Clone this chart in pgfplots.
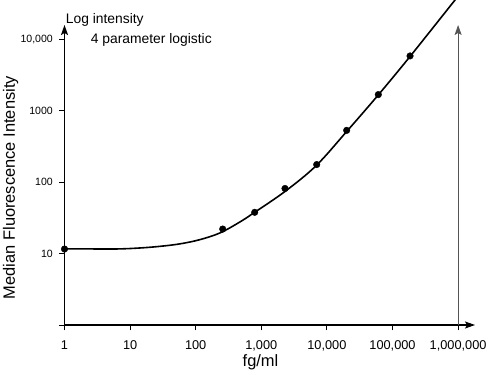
\documentclass[border=0pt]{standalone}
\usepackage{fontspec}
\setmainfont{Liberation Sans}
\usepackage{pgfplots}
\pgfplotsset{compat=1.18}
\usetikzlibrary{arrows.meta}
\definecolor{rline}{HTML}{555555}
\begin{document}
\begin{tikzpicture}[x=1bp,y=1bp]
\useasboundingbox (0,0) rectangle (488,374);
\clip (0,0) rectangle (488,374);
\begin{axis}[
  at={(64.5bp,49bp)}, anchor=south west,
  scale only axis, width=410.5bp, height=300bp,
  xmode=log, ymode=log,
  xmin=1, xmax=1810000, ymin=1, ymax=15960,
  axis x line*=bottom, axis y line*=left,
  x axis line style={line width=1.1bp, -{Stealth[length=10bp,width=7bp,inset=2bp]}},
  y axis line style={line width=1.1bp, -{Stealth[length=10bp,width=7bp,inset=2bp]}},
  tick align=outside, major tick length=5.5bp,
  every tick/.style={black, line width=1bp},
  xminorticks=false, yminorticks=false,
  xtick={1,10,100,1000,10000,100000,1000000},
  xticklabels={1,10,100,{1,000},{10,000},{100,000},{1,000,000}},
  ytick={1,10,100,1000,10000},
  yticklabels={,10,100,1000,{10,000}},
  xticklabel style={font=\fontsize{12.8}{13}\selectfont, anchor=base, inner sep=0pt, yshift=-18.8bp},
  yticklabel style={font=\fontsize{10.6}{11}\selectfont, anchor=east, inner sep=0pt, xshift=-6bp},
  /pgf/number format/assume math mode=true,
  xlabel={fg/ml},
  ylabel={Median Fluorescence Intensity},
  xlabel style={font=\fontsize{16.5}{17}\selectfont, at={(axis description cs:0.4775,-0.1367)}, anchor=base, inner sep=0pt},
  ylabel style={font=\fontsize{16.5}{17}\selectfont, at={(axis description cs:-0.1206,0.458)}, anchor=base, inner sep=0pt},
  clip=false,
]
\addplot[rline, line width=1.1bp, -{Stealth[length=10bp,width=7bp,inset=2bp]}] coordinates {(1000000,1) (1000000,15960)};
\addplot[black, line width=1.6bp, smooth, tension=0.55] coordinates {
(1,11.63) (2.45,11.63) (6.54,11.63) (14.2,12.0) (28.6,12.65) (57.6,13.7)
(116,15.7) (234.6,19.5) (473,27.8) (774,37.4)
(2297,74.3) (6820,170) (20050,515) (60800,1675)
(185000,5780) (897000,35650) (1520000,63700)
};
\addplot[only marks, mark=*, mark size=3.3bp, black] coordinates {
(1,11.6) (258,22.1) (793,37.9) (2297,81.8) (6990,177) (20000,533) (60800,1690) (185000,5880)
};
\node[anchor=base west, inner sep=0pt, font=\fontsize{13.9}{14}\selectfont] at (axis description cs:0.0029,1.0033) {Log intensity};
\node[anchor=base west, inner sep=0pt, font=\fontsize{13.9}{14}\selectfont] at (axis description cs:0.0638,0.939) {4 parameter logistic};
\end{axis}
\end{tikzpicture}
\end{document}
